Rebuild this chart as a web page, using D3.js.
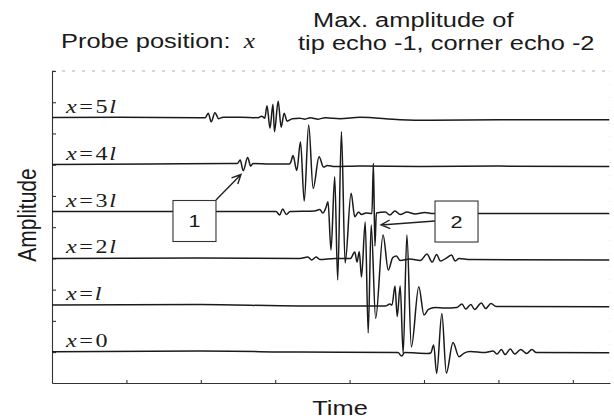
<!DOCTYPE html>
<html>
<head>
<meta charset="utf-8">
<script src="https://cdn.jsdelivr.net/npm/d3@7"></script>
<style>
  html, body { margin: 0; padding: 0; background: #fff; }
  svg { display: block; }
  .sans { font-family: "Liberation Sans", Arial, sans-serif; fill: #1a1a1a; }
  .math { font-family: "Liberation Serif", "DejaVu Serif", serif; fill: #1a1a1a; }
</style>
</head>
<body>
<div id="chart"></div>
<script>
/* ══════════════════════════════════════════════════════════════════════════
   A-scans — echo signals for each probe position (time in tick units,
   amplitude in units where one trace spacing = 10)
   ══════════════════════════════════════════════════════════════════════════ */

const positions = ['0', 'l', '2l', '3l', '4l', '5l'];
const offsets   = [0, 10, 20, 30, 40, 50];

const trace0 = [
  [0, 0.06], [1.99, 0.21], [3.33, 0], [4.65, -0.11], [4.70, -0.85], [4.74, -0.11],
  [5.05, -0.32], [5.09, -0.21], [5.13, 1.49], [5.17, -4.55], [5.24, 8.26], [5.30, -4.48],
  [5.39, 2.03], [5.47, -1.00], [5.54, -0.21], [5.62, 0.11], [5.82, -0.11], [5.93, 0.21],
  [5.98, -0.43], [6.04, 0.53], [6.09, -0.53], [6.16, 0.64], [6.22, -0.43], [6.30, 0.53],
  [6.38, -0.32], [6.45, 0.53], [6.51, -0.11], [7.49, -0.15]
];
const traceL = [
  [0, 0.04], [1.99, 0.15], [3.33, -0.17], [4.48, -0.17], [4.54, 0.26], [4.57, 0.04],
  [4.61, 4.10], [4.64, -2.41], [4.68, 4.10], [4.72, -10.27], [4.77, 14.98], [4.83, -8.92],
  [4.93, 3.95], [5.00, -2.09], [5.06, -0.88], [5.15, -0.49], [5.28, -0.60], [5.44, -0.49],
  [5.51, 0.26], [5.56, -0.81], [5.63, 0.15], [5.68, -0.92], [5.77, 0.47], [5.83, -0.70],
  [5.90, 0.36], [5.97, -0.28], [6.02, -0.28], [7.49, -0.32]
];
const trace2L = [
  [0, 0], [1.99, 0.06], [3.33, -0.04], [3.44, 0.28], [3.49, -0.36], [3.55, 0.28],
  [3.60, -0.26], [3.80, -0.04], [4.01, -0.04], [4.07, 1.34], [4.10, -0.79], [4.13, 1.41],
  [4.16, -3.99], [4.21, 7.75], [4.25, -15.94], [4.29, 7.11], [4.35, -12.81], [4.45, 4.97],
  [4.52, -2.50], [4.58, 0.17], [4.63, 0.49], [4.68, -0.47], [4.81, -0.15], [4.95, -0.47],
  [5.04, 0.92], [5.11, -0.79], [5.17, 0.81], [5.22, -0.58], [5.30, 0.06], [5.37, 0.70],
  [5.42, -0.58], [5.47, -0.04], [5.62, -0.26], [7.49, -0.36]
];
const trace3L = [
  [0, 0], [1.32, 0], [3.01, 0], [3.06, -0.75], [3.10, 0.53], [3.15, -0.64], [3.20, 0],
  [3.53, 0.11], [3.60, 0.43], [3.64, -0.32], [3.68, 0.75], [3.71, 2.09], [3.75, -8.22],
  [3.80, 7.43], [3.84, -14.62], [3.89, 17.03], [3.94, -10.99], [4.02, 3.88], [4.07, -1.11],
  [4.12, -0.11], [4.16, -0.64], [4.22, -0.32], [4.30, -0.43], [4.32, 10.29], [4.34, -7.36],
  [4.36, -0.32], [4.48, -0.11], [4.54, -0.75], [4.61, 0.11], [4.68, -0.64], [4.77, -0.11],
  [4.88, -0.53], [5.01, -0.21], [5.12, -0.43], [5.75, -0.43], [7.49, -0.43]
];
const trace4L = [
  [0, 0.06], [1.32, 0.13], [2.39, 0.28], [2.49, 0.23], [2.53, 0.98], [2.57, -1.30],
  [2.63, 1.56], [2.67, -0.30], [2.70, 0.23], [2.93, 0.13], [3.19, 0.13], [3.21, 0.55],
  [3.24, 1.94], [3.29, -1.26], [3.34, 4.89], [3.39, -7.77], [3.45, 8.45], [3.51, -5.06],
  [3.59, 1.69], [3.65, -0.51], [3.70, -0.19], [3.80, -0.41], [4.14, -0.30], [4.95, -0.41],
  [6.02, -0.30], [7.49, -0.41]
];
const trace5L = [
  [0, 0.09], [0.91, 0.15], [1.99, 0.04], [2.06, 0.04], [2.10, 1.00], [2.14, -0.85],
  [2.19, 1.11], [2.24, -0.17], [2.30, 0.15], [2.53, 0.15], [2.77, 0.04], [2.82, 0.36],
  [2.86, -0.06], [2.89, 2.60], [2.93, -2.20], [2.97, 2.92], [2.99, -2.95], [3.04, 3.56],
  [3.08, -1.99], [3.12, 1.00], [3.16, -0.70], [3.23, -0.17], [3.33, -0.06], [3.40, -0.28],
  [3.47, 0.04], [3.58, -0.28], [3.67, 0.04], [3.87, -0.17], [4.14, 0.15], [4.68, -0.38],
  [5.08, -0.49], [6.02, -0.38], [6.83, -0.38], [7.49, -0.38]
];
const traces = [trace0, traceL, trace2L, trace3L, trace4L, trace5L];

// Boxes "1" / "2" (centre in data coords) and arrows (from → to)
const boxLabels = ['1', '2'];
const boxCentres = [[1.915, 27.98], [5.437, 27.87]];
const arrows = [
  [[2.204, 32.46], [2.540, 37.91]],
  [[5.148, 27.98], [4.422, 27.13]]
];

const xTicks = [1, 2, 3, 4, 5, 6, 7];
const yTicks = d3.range(0, 10).map(k => k * 20 / 3);

/* ── Layout ──────────────────────────────────────────────────────────────── */
const W = 614, H = 419;
const plot = { left: 52, right: 610, top: 71, bottom: 383 };
const SX = 1.27; // the scan is stretched sideways: horizontal text is wider than tall

const x = d3.scaleLinear().domain([0, 7.5]).range([plot.left, plot.right]);
const y = d3.scaleLinear().domain([-6.6, 60]).range([plot.bottom, plot.top]);

const svg = d3.select('#chart').append('svg')
  .attr('width', W).attr('height', H)
  .attr('viewBox', `0 0 ${W} ${H}`);

// faint top / right frame (dotted in the scan)
svg.append('path')
  .attr('d', `M${plot.left},${plot.top}H${plot.right}`)
  .attr('fill', 'none')
  .attr('stroke', '#999')
  .attr('stroke-width', 0.8)
  .attr('stroke-dasharray', '3,7');
svg.append('path')
  .attr('d', `M${plot.right},${plot.top}V${plot.bottom}`)
  .attr('fill', 'none')
  .attr('stroke', '#ccc')
  .attr('stroke-width', 0.6)
  .attr('stroke-dasharray', '1,12');

/* ── Axes ────────────────────────────────────────────────────────────────── */
const xAxis = svg.append('g')
  .attr('transform', `translate(0,${plot.bottom})`)
  .call(d3.axisBottom(x).tickValues(xTicks).tickSizeInner(-3).tickSizeOuter(0).tickFormat(''));
const yAxis = svg.append('g')
  .attr('transform', `translate(${plot.left},0)`)
  .call(d3.axisLeft(y).tickValues(yTicks).tickSizeInner(-4).tickSizeOuter(0).tickFormat(''));
[xAxis, yAxis].forEach(a => {
  a.selectAll('path, line').attr('stroke', '#333').attr('stroke-width', 1.1);
});

/* ── Traces ──────────────────────────────────────────────────────────────── */
const line = d3.line()
  .x(d => x(d[0]))
  .y(d => y(d[1]))
  .curve(d3.curveMonotoneX);

svg.append('g').selectAll('path')
  .data(traces)
  .join('path')
  .attr('d', (d, i) => line(d.map(p => [p[0], p[1] + offsets[i]])))
  .attr('fill', 'none')
  .attr('stroke', '#1a1a1a')
  .attr('stroke-width', 1.5)
  .attr('stroke-linejoin', 'round');

// labels x=0 … x=5l
const lab = svg.append('g').selectAll('text')
  .data(positions)
  .join('text')
  .attr('class', 'math')
  .attr('transform', (d, i) => `translate(66,${y(offsets[i]) - 5}) scale(${SX},1)`)
  .style('font-size', '19px');
lab.append('tspan').style('font-style', 'italic').text('x');
lab.append('tspan').attr('dx', 2).text('=');
lab.append('tspan').attr('dx', 2).text(d => d.replace('l', ''));
lab.filter(d => d.includes('l')).append('tspan').attr('dx', 1.5).style('font-style', 'italic').text('l');

/* ── Annotations ─────────────────────────────────────────────────────────── */
const arrowG = svg.append('g');
arrows.forEach(([a, b]) => {
  const x1 = x(a[0]), y1 = y(a[1]), x2 = x(b[0]), y2 = y(b[1]);
  const ang = Math.atan2(y2 - y1, x2 - x1);
  const len = 10, spread = 0.45;
  const h1 = [x2 - len * Math.cos(ang - spread), y2 - len * Math.sin(ang - spread)];
  const h2 = [x2 - len * Math.cos(ang + spread), y2 - len * Math.sin(ang + spread)];
  arrowG.append('path')
    .attr('d', `M${x1},${y1}L${x2},${y2}M${h1[0]},${h1[1]}L${x2},${y2}L${h2[0]},${h2[1]}`)
    .attr('fill', 'none')
    .attr('stroke', '#222')
    .attr('stroke-width', 1.4);
});

const boxW = 43, boxH = 41;
const boxG = svg.append('g').selectAll('g')
  .data(boxLabels)
  .join('g')
  .attr('transform', (d, i) => `translate(${x(boxCentres[i][0])},${y(boxCentres[i][1])})`);
boxG.append('rect')
  .attr('x', -boxW / 2).attr('y', -boxH / 2)
  .attr('width', boxW).attr('height', boxH)
  .attr('fill', '#fff')
  .attr('stroke', '#333')
  .attr('stroke-width', 1.1);
boxG.append('text')
  .attr('class', 'sans')
  .attr('text-anchor', 'middle')
  .attr('dy', '0.36em')
  .attr('transform', `scale(${SX},1)`)
  .style('font-size', '17px')
  .text(d => d);

/* ── Titles ──────────────────────────────────────────────────────────────── */
const t1 = svg.append('text').attr('class', 'sans')
  .attr('transform', `translate(61,48) scale(${SX},1)`)
  .style('font-size', '20px');
t1.append('tspan').text('Probe position: ');
t1.append('tspan').attr('class', 'math').attr('dx', 5).style('font-style', 'italic').text('x');

svg.append('text').attr('class', 'sans')
  .attr('transform', `translate(313,27) scale(${SX},1)`)
  .style('font-size', '20px')
  .text('Max. amplitude of');
svg.append('text').attr('class', 'sans')
  .attr('transform', `translate(298,50) scale(${SX},1)`)
  .style('font-size', '20px')
  .text('tip echo -1, corner echo -2');

svg.append('text').attr('class', 'sans')
  .attr('transform', `translate(340,415) scale(${SX},1)`)
  .attr('text-anchor', 'middle')
  .style('font-size', '20px')
  .text('Time');

svg.append('text').attr('class', 'sans')
  .attr('transform', `translate(36,215) rotate(-90) scale(1,${SX})`)
  .attr('text-anchor', 'middle')
  .style('font-size', '21px')
  .text('Amplitude');
</script>
</body>
</html>
